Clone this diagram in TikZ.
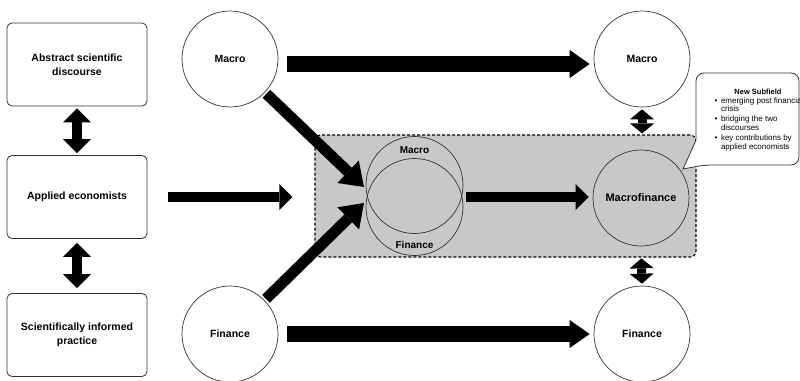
\documentclass[tikz,border=0pt]{standalone}
\usepackage{fontspec}
\setmainfont{Liberation Sans}
\usetikzlibrary{arrows.meta,calc}
\definecolor{grpgray}{HTML}{C8C8C8}
\definecolor{edge}{HTML}{333333}
\begin{document}
\begin{tikzpicture}[x=1pt,y=-1pt,
  lbox/.style={draw=edge,line width=0.8pt,rounded corners=5pt,minimum width=140pt,minimum height=83pt,align=center,font=\bfseries\fontsize{10.5}{14}\selectfont},
  circ/.style={circle,draw=edge,line width=0.7pt,minimum size=96pt,inner sep=0pt,font=\bfseries\fontsize{10.5}{13}\selectfont},
  bigarrow/.style={line width=16pt,-{Triangle[length=20pt,width=28pt,line width=0pt]}},
  medarrow/.style={line width=10pt,-{Triangle[length=13pt,width=26pt,line width=0pt]}},
  diagarrow/.style={line width=11pt,-{Triangle[length=22pt,width=31pt,line width=0pt]}},
  dblarrow/.style={line width=10pt,{Triangle[length=14pt,width=28pt,line width=0pt]}-{Triangle[length=14pt,width=28pt,line width=0pt]}},
  smalldbl/.style={line width=9pt,{Triangle[length=10pt,width=24pt,line width=0pt]}-{Triangle[length=10pt,width=24pt,line width=0pt]}},
  lbl/.style={font=\bfseries\fontsize{10}{12}\selectfont,inner sep=0pt}
]
\useasboundingbox (0,0) rectangle (800,380);

% group box
\node[draw=black,fill=grpgray,line width=1.1pt,dash pattern=on 3pt off 2pt,rounded corners=6pt,minimum width=381pt,minimum height=122pt,inner sep=0pt] (grp) at (505.5,196) {};

% left boxes
\node[lbox] (b1) at (77,64.5) {Abstract scientific\\discourse};
\node[lbox] (b2) at (77,197) {Applied economists};
\node[lbox] (b3) at (77,335) {Scientifically informed\\practice};

% circles
\node[circ] (macL) at (230,59) {Macro};
\node[circ] (finL) at (230,334) {Finance};
\node[circ] (macR) at (642,59) {Macro};
\node[circ] (finR) at (642,334) {Finance};
\node[circ,font=\bfseries\fontsize{11}{13}\selectfont] (mf) at (641,198) {Macrofinance};

% overlapping circles
\node[circle,draw=edge,line width=0.7pt,minimum size=97pt,inner sep=0pt] (ovM) at (414.5,185) {};
\node[circle,draw=edge,line width=0.7pt,minimum size=97pt,inner sep=0pt] (ovF) at (414.5,207) {};
\node[circle,minimum size=97pt,inner sep=0pt] (ov) at (414.5,197) {};
\node[lbl] (ovMl) at (414.5,150) {Macro};
\node[lbl] (ovFl) at (414.5,245) {Finance};
\coordinate (jin1) at (364,187);
\coordinate (jin2) at (364,203);

% arrows
\draw[dblarrow,shorten <=2pt,shorten >=2pt] (b1.south) -- (b2.north);
\draw[dblarrow,shorten <=4pt,shorten >=5pt] (b2.south) -- (b3.north);
\draw[medarrow,shorten <=21pt,shorten >=22pt] (b2.east) -- (b2.east -| grp.west);
\draw[bigarrow,shorten <=9pt,shorten >=4pt] ([yshift=-5pt]macL.east) -- ([yshift=-5pt]macR.west);
\draw[bigarrow,shorten <=9pt,shorten >=4pt] (finL.east) -- (finR.west);
\draw[diagarrow,shorten <=2pt] (macL) -- (jin1);
\draw[diagarrow,shorten <=2pt] (finL) -- (jin2);
\draw[medarrow,shorten <=3pt,shorten >=4pt] (ov.east) -- (ov.east -| mf.west);
\draw[smalldbl,shorten <=2pt,shorten >=1pt] (macR.south) -- (macR.south |- grp.north);
\draw[smalldbl,shorten <=12pt,shorten >=2pt] (mf.south) -- (finR.north);

% callout
\draw[edge,line width=0.8pt,fill=white] (683,169) -- (696,140) [rounded corners=8pt] -- (696,73) -- (799,73) -- (799,165) -- (704,165) [sharp corners] -- cycle;
\node[font=\bfseries\fontsize{7.5}{8}\selectfont,inner sep=0pt] (nt) at (758,92) {New Subfield};
\node[anchor=north west,inner sep=0pt,align=left,font=\fontsize{8}{8.6}\selectfont] (nb) at (714.5,97)
{\begin{tabular}{@{}l@{\hspace{3.5pt}}l@{}}
\textbullet & emerging post financial\\
 & crisis\\[1.5pt]
\textbullet & bridging the two\\
 & discourses\\[1.5pt]
\textbullet & key contributions by\\
 & applied economists
\end{tabular}};
\end{tikzpicture}
\end{document}
